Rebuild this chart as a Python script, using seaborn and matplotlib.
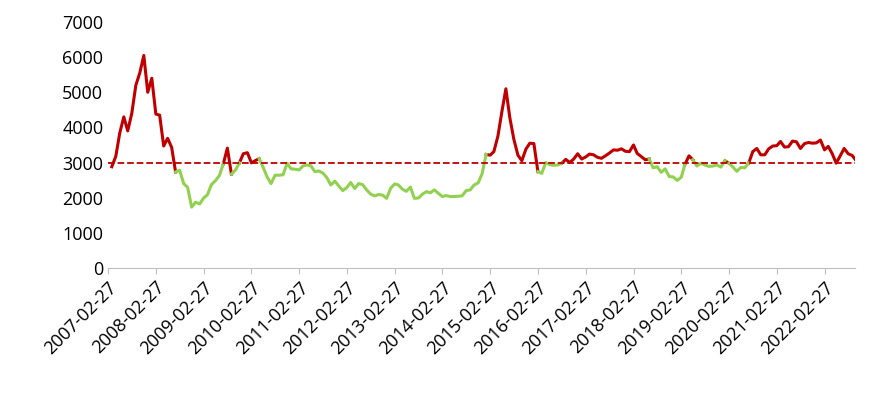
import matplotlib
matplotlib.use("Agg")
import matplotlib.pyplot as plt
import seaborn as sns
import pandas as pd
import numpy as np

start = "2007-02-27"
values = [
 2880, 3180, 3840, 4300, 3900, 4400, 5200, 5550, 6050, 5000, 5400,
 4380, 4350, 3470, 3690, 3430, 2730, 2780, 2400, 2290, 1730, 1870, 1820,
 1990, 2080, 2370, 2480, 2630, 2960, 3410, 2670, 2780, 2990, 3250, 3280,
 2990, 3050, 3110, 2870, 2590, 2400, 2640, 2640, 2650, 2980, 2820, 2810,
 2790, 2900, 2930, 2910, 2740, 2760, 2700, 2570, 2360, 2470, 2330, 2200,
 2290, 2430, 2260, 2400, 2370, 2220, 2100, 2050, 2090, 2070, 1980, 2270,
 2390, 2360, 2240, 2180, 2300, 1980, 1990, 2100, 2170, 2140, 2220, 2120,
 2030, 2060, 2030, 2030, 2040, 2050, 2200, 2220, 2360, 2420, 2680, 3230,
 3210, 3310, 3750, 4440, 5100, 4280, 3660, 3210, 3050, 3380, 3550, 3540,
 2740, 2690, 3000, 2940, 2920, 2930, 2980, 3090, 3000, 3100, 3250, 3100,
 3160, 3240, 3220, 3150, 3120, 3190, 3270, 3360, 3350, 3390, 3320, 3310,
 3500, 3260, 3170, 3080, 3100, 2850, 2880, 2720, 2820, 2600, 2590, 2490,
 2580, 2940, 3190, 3080, 2900, 2980, 2930, 2890, 2900, 2930, 2870, 3050,
 2980, 2880, 2750, 2860, 2850, 2980, 3310, 3400, 3220, 3220, 3390, 3470,
 3480, 3600, 3440, 3450, 3610, 3590, 3400, 3540, 3570, 3550, 3560, 3640,
 3360, 3460, 3250, 2980, 3190, 3400, 3250, 3200, 3050,
]
threshold = 3000
tick_labels = [f"{y}-02-27" for y in range(2007, 2023)]

dates = pd.date_range(start, periods=len(values), freq="MS") + pd.Timedelta(days=26)
v = np.array(values, dtype=float)

# split into runs of segments coloured by side of threshold
rows = []
unit = 0
prev_col = None
for i in range(len(v) - 1):
    col = "above" if (v[i] + v[i + 1]) / 2 >= threshold else "below"
    if col != prev_col:
        unit += 1
        rows.append((dates[i], v[i], col, unit))
        prev_col = col
    rows.append((dates[i + 1], v[i + 1], col, unit))
df = pd.DataFrame(rows, columns=["date", "value", "side", "unit"])

plt.rcParams['font.family'] = ['Open Sans', 'DejaVu Sans']
fig = plt.figure(figsize=(8.79, 4.01), dpi=100)
ax = fig.add_axes([0.123, 0.332, 0.850, 0.613])
sns.lineplot(data=df, x="date", y="value", hue="side", units="unit",
             estimator=None, palette={"above": "#c00000", "below": "#92d050"},
             lw=2.2, legend=False, ax=ax)
ax.axhline(threshold, color="#c00000", ls="--", lw=1.3)

ax.set_ylim(0, 7000)
ax.set_yticks(range(0, 7001, 1000))
ax.set_xlim(pd.Timestamp(start), pd.Timestamp("2022-10-20"))
ticks = pd.to_datetime(tick_labels)
ax.set_xticks(ticks)
ax.set_xticklabels(tick_labels, rotation=45, ha="right", rotation_mode="anchor")
ax.tick_params(axis="y", length=0, labelsize=13)
ax.tick_params(axis="x", length=4, color="#bfbfbf", labelsize=13)
for s in ["top", "right", "left"]:
    ax.spines[s].set_visible(False)
ax.spines["bottom"].set_color("#bfbfbf")
ax.set_xlabel("")
ax.set_ylabel("")
fig.savefig("out.png", dpi=100)
